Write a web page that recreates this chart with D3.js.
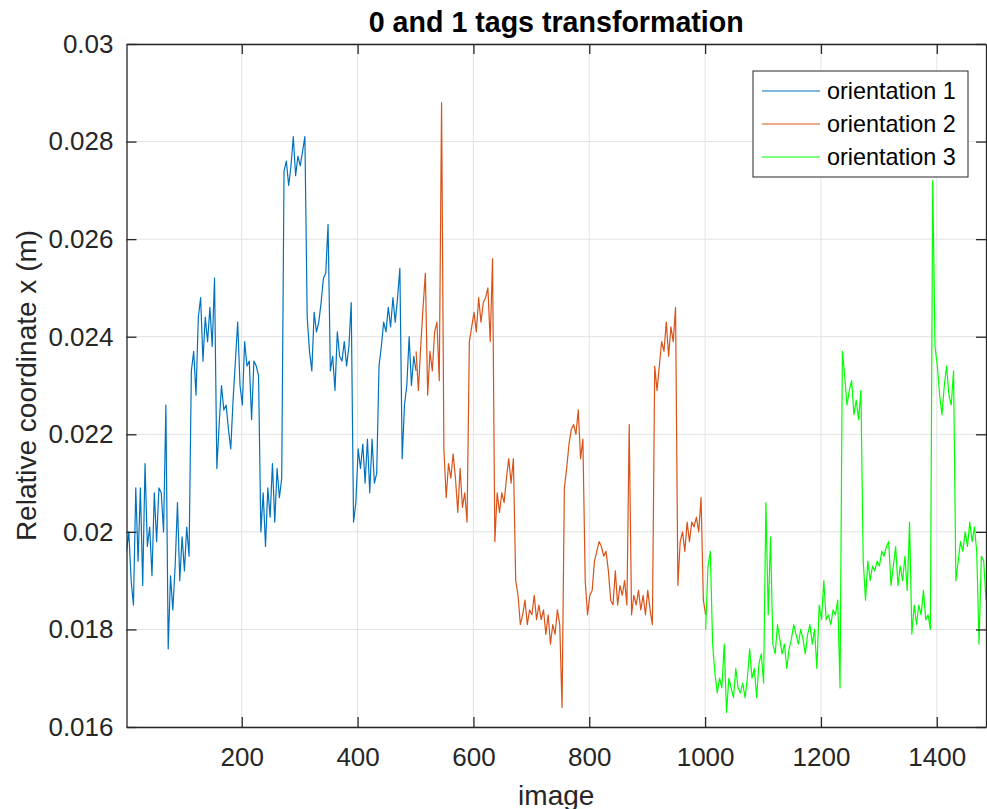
<!DOCTYPE html>
<html>
<head>
<meta charset="utf-8">
<script src="https://cdn.jsdelivr.net/npm/d3@7"></script>
<style>
  body { margin: 0; background: #ffffff; }
  svg { display: block; font-family: "Liberation Sans", Arial, Helvetica, sans-serif; }
</style>
</head>
<body>
<div id="chart"></div>
<script>
// ---- data (image number vs relative x coordinate, m) ----
var seriesNames = ["orientation 1", "orientation 2", "orientation 3"];
var seriesColors = ["#0072BD", "#D95319", "#00FF00"];
var sampleStep = 4;   // every 4th image

var orientation1Start = 1;
var orientation1 = [
  0.0196,0.0200,0.0190,0.0185,0.0209,0.0194,0.0209,0.0189,0.0214,0.0197,
  0.0201,0.0191,0.0208,0.0198,0.0209,0.0208,0.0200,0.0226,0.0176,0.0191,
  0.0184,0.0193,0.0206,0.0190,0.0199,0.0192,0.0201,0.0195,0.0233,0.0237,
  0.0228,0.0244,0.0248,0.0235,0.0244,0.0239,0.0246,0.0238,0.0252,0.0213,
  0.0222,0.0230,0.0225,0.0226,0.0221,0.0217,0.0227,0.0235,0.0243,0.0230,
  0.0226,0.0239,0.0234,0.0235,0.0223,0.0235,0.0234,0.0232,0.0200,0.0208,
  0.0197,0.0209,0.0203,0.0214,0.0202,0.0213,0.0207,0.0211,0.0274,0.0276,
  0.0271,0.0275,0.0281,0.0273,0.0277,0.0275,0.0278,0.0281,0.0244,0.0237,
  0.0233,0.0245,0.0241,0.0243,0.0247,0.0252,0.0253,0.0263,0.0233,0.0236,
  0.0229,0.0241,0.0236,0.0235,0.0239,0.0234,0.0238,0.0247,0.0202,0.0206,
  0.0217,0.0213,0.0218,0.0210,0.0219,0.0208,0.0219,0.0210,0.0212,0.0234,
  0.0238,0.0243,0.0241,0.0246,0.0242,0.0248,0.0243,0.0248,0.0254,0.0215,
  0.0226,0.0230,0.0240,0.0230,0.0236,0.0233
];

var orientation2Start = 501;
var orientation2 = [
  0.0237,0.0229,0.0238,0.0246,0.0253,0.0228,0.0237,0.0233,0.0241,0.0243,
  0.0231,0.0288,0.0217,0.0207,0.0214,0.0211,0.0216,0.0211,0.0204,0.0213,
  0.0205,0.0208,0.0202,0.0239,0.0242,0.0245,0.0241,0.0248,0.0243,0.0247,
  0.0248,0.0250,0.0239,0.0256,0.0198,0.0208,0.0204,0.0208,0.0206,0.0211,
  0.0215,0.0210,0.0215,0.0190,0.0187,0.0181,0.0183,0.0186,0.0181,0.0184,
  0.0183,0.0187,0.0182,0.0185,0.0182,0.0184,0.0179,0.0183,0.0177,0.0181,
  0.0179,0.0184,0.0181,0.0164,0.0209,0.0213,0.0218,0.0221,0.0222,0.0220,
  0.0225,0.0215,0.0219,0.0190,0.0183,0.0187,0.0188,0.0194,0.0196,0.0198,
  0.0197,0.0195,0.0196,0.0192,0.0186,0.0185,0.0192,0.0185,0.0189,0.0187,
  0.0190,0.0185,0.0222,0.0183,0.0187,0.0185,0.0188,0.0184,0.0187,0.0183,
  0.0188,0.0184,0.0181,0.0234,0.0229,0.0234,0.0239,0.0237,0.0243,0.0236,
  0.0242,0.0239,0.0246,0.0189,0.0198,0.0200,0.0196,0.0202,0.0198,0.0202,
  0.0201,0.0203,0.0200,0.0207,0.0186,0.0183
];

var orientation3Start = 1001;
var orientation3 = [
  0.0180,0.0193,0.0196,0.0177,0.0171,0.0167,0.0170,0.0168,0.0177,0.0163,
  0.0170,0.0168,0.0166,0.0172,0.0168,0.0167,0.0169,0.0166,0.0170,0.0176,
  0.0170,0.0172,0.0166,0.0173,0.0175,0.0169,0.0206,0.0183,0.0199,0.0177,
  0.0175,0.0181,0.0178,0.0175,0.0177,0.0172,0.0176,0.0178,0.0181,0.0179,
  0.0177,0.0180,0.0178,0.0175,0.0179,0.0181,0.0177,0.0180,0.0172,0.0185,
  0.0182,0.0190,0.0182,0.0183,0.0181,0.0184,0.0183,0.0186,0.0168,0.0237,
  0.0232,0.0226,0.0229,0.0231,0.0224,0.0227,0.0223,0.0229,0.0194,0.0186,
  0.0194,0.0190,0.0193,0.0192,0.0194,0.0193,0.0196,0.0195,0.0197,0.0198,
  0.0189,0.0193,0.0197,0.0189,0.0193,0.0190,0.0195,0.0188,0.0202,0.0179,
  0.0185,0.0181,0.0185,0.0183,0.0188,0.0182,0.0183,0.0180,0.0272,0.0238,
  0.0234,0.0228,0.0224,0.0230,0.0234,0.0228,0.0226,0.0233,0.0190,0.0194,
  0.0198,0.0196,0.0200,0.0197,0.0202,0.0198,0.0201,0.0196,0.0177,0.0195,
  0.0194,0.0186
];

var xDomain = [1, 1485];
var yDomain = [0.016, 0.03];
var xTicks = [200, 400, 600, 800, 1000, 1200, 1400];
var yTicks = [0.016, 0.018, 0.02, 0.022, 0.024, 0.026, 0.028, 0.03];
var yTickLabels = ["0.016", "0.018", "0.02", "0.022", "0.024", "0.026", "0.028", "0.03"];

var titleText = "0 and 1 tags transformation";
var xLabel = "image";
var yLabel = "Relative coordinate x (m)";

// ---- drawing ----
var width = 987;
var height = 809;
var plotLeft = 126.5, plotRight = 986, plotTop = 44, plotBottom = 727;
var axisColor = "#262626";

var toPoints = function(values, start) {
  return values.map(function(v, i) {
    return { image: start + i * sampleStep, value: v };
  });
};

var series = [
  { name: seriesNames[0], color: seriesColors[0], points: toPoints(orientation1, orientation1Start) },
  { name: seriesNames[1], color: seriesColors[1], points: toPoints(orientation2, orientation2Start) },
  { name: seriesNames[2], color: seriesColors[2], points: toPoints(orientation3, orientation3Start) }
];

var svg = d3.select("#chart").append("svg")
            .attr("width", width)
            .attr("height", height);

var x = d3.scaleLinear().domain(xDomain).range([plotLeft, plotRight]);
var y = d3.scaleLinear().domain(yDomain).range([plotBottom, plotTop]);

// grid
svg.append("g").selectAll("line")
   .data(xTicks)
   .enter()
   .append("line")
   .attr("x1", function(d) { return x(d); })
   .attr("x2", function(d) { return x(d); })
   .attr("y1", plotTop)
   .attr("y2", plotBottom)
   .attr("stroke", "#e3e3e3")
   .attr("stroke-width", 1);

svg.append("g").selectAll("line")
   .data(yTicks)
   .enter()
   .append("line")
   .attr("x1", plotLeft)
   .attr("x2", plotRight)
   .attr("y1", function(d) { return y(d); })
   .attr("y2", function(d) { return y(d); })
   .attr("stroke", "#e3e3e3")
   .attr("stroke-width", 1);

// lines
svg.append("clipPath").attr("id", "plotclip")
   .append("rect")
   .attr("x", plotLeft).attr("y", plotTop)
   .attr("width", plotRight - plotLeft).attr("height", plotBottom - plotTop);

var line = d3.line()
             .x(function(d) { return x(d.image); })
             .y(function(d) { return y(d.value); });

svg.append("g")
   .attr("clip-path", "url(#plotclip)")
   .selectAll("path")
   .data(series)
   .enter()
   .append("path")
   .attr("d", function(d) { return line(d.points); })
   .attr("fill", "none")
   .attr("stroke", function(d) { return d.color; })
   .attr("stroke-width", 1.2)
   .attr("stroke-linejoin", "round");

// axes, ticks pointing inward
var styleAxis = function(g) {
  g.selectAll("path.domain").attr("stroke", axisColor).attr("stroke-width", 1.3);
  g.selectAll(".tick line").attr("stroke", axisColor).attr("stroke-width", 1.3);
  g.selectAll(".tick text").attr("fill", axisColor)
   .attr("font-size", 26)
   .attr("font-family", "'Liberation Sans', Arial, Helvetica, sans-serif");
};

svg.append("g")
   .attr("transform", "translate(0," + plotBottom + ")")
   .call(d3.axisBottom(x).tickValues(xTicks).tickSizeInner(-10).tickSizeOuter(0)
           .tickPadding(21).tickFormat(d3.format("d")))
   .call(styleAxis);

svg.append("g")
   .attr("transform", "translate(0," + plotTop + ")")
   .call(d3.axisTop(x).tickValues(xTicks).tickSizeInner(-10).tickSizeOuter(0).tickFormat(""))
   .call(styleAxis);

svg.append("g")
   .attr("transform", "translate(" + plotLeft + ",0)")
   .call(d3.axisLeft(y).tickValues(yTicks).tickSizeInner(-10).tickSizeOuter(0)
           .tickPadding(13)
           .tickFormat(function(d, i) { return yTickLabels[i]; }))
   .call(styleAxis);

svg.append("g")
   .attr("transform", "translate(" + plotRight + ",0)")
   .call(d3.axisRight(y).tickValues(yTicks).tickSizeInner(-10).tickSizeOuter(0).tickFormat(""))
   .call(styleAxis);

// title and labels
svg.append("text")
   .text(titleText)
   .attr("x", (plotLeft + plotRight) / 2)
   .attr("y", 32)
   .attr("text-anchor", "middle")
   .attr("font-size", 28.6)
   .attr("font-weight", "bold")
   .attr("fill", "#000000");

svg.append("text")
   .text(xLabel)
   .attr("x", (plotLeft + plotRight) / 2)
   .attr("y", 805)
   .attr("text-anchor", "middle")
   .attr("font-size", 28)
   .attr("fill", axisColor);

svg.append("text")
   .text(yLabel)
   .attr("transform", "translate(36," + (plotTop + plotBottom) / 2 + ") rotate(-90)")
   .attr("text-anchor", "middle")
   .attr("font-size", 28)
   .attr("fill", axisColor);

// legend
var legend = svg.append("g");
legend.append("rect")
      .attr("x", 753)
      .attr("y", 71)
      .attr("width", 215)
      .attr("height", 106)
      .attr("fill", "#ffffff")
      .attr("stroke", axisColor)
      .attr("stroke-width", 1);

legend.selectAll("line")
      .data(series)
      .enter()
      .append("line")
      .attr("x1", 762)
      .attr("x2", 820)
      .attr("y1", function(d, i) { return 91 + i * 33; })
      .attr("y2", function(d, i) { return 91 + i * 33; })
      .attr("stroke", function(d) { return d.color; })
      .attr("stroke-width", 1.2);

legend.selectAll("text")
      .data(series)
      .enter()
      .append("text")
      .text(function(d) { return d.name; })
      .attr("x", 827)
      .attr("y", function(d, i) { return 99 + i * 33; })
      .attr("font-size", 23.4)
      .attr("fill", "#000000");
</script>
</body>
</html>
